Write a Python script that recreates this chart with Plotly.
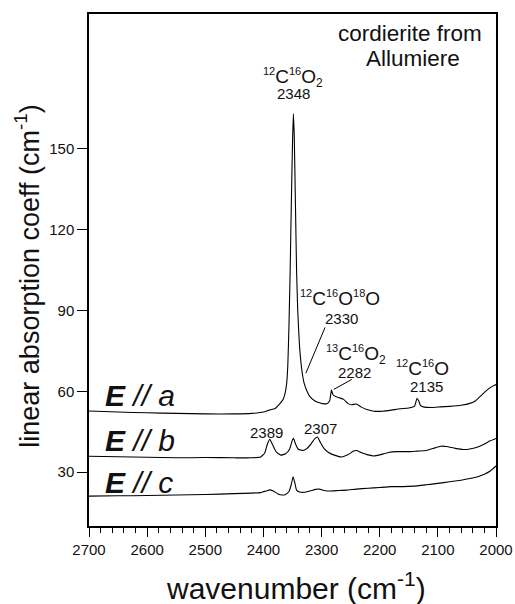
import plotly.graph_objects as go

# ---- data ----
wn_a = [2700, 2650, 2600, 2550, 2500, 2450, 2420, 2400, 2390, 2380, 2372, 2366, 2363, 2360, 2358,
        2356, 2354, 2352, 2350, 2348.5, 2347, 2345, 2343, 2341, 2338, 2334, 2330, 2325, 2320, 2312,
        2305, 2298, 2291, 2286, 2283, 2281, 2278, 2270, 2262, 2255, 2248, 2240, 2232, 2222, 2210,
        2195, 2180, 2165, 2150, 2140, 2136, 2133, 2130, 2125, 2110, 2096, 2080, 2060, 2045, 2035,
        2025, 2015, 2005, 2000]
abs_a = [52.7, 52.3, 52.0, 51.8, 51.6, 51.6, 51.8, 52.3, 53.0, 53.6, 55.3, 57.0, 59.0, 63.0, 70.0,
         85.0, 105.0, 130.0, 152.0, 163.0, 155.0, 130.0, 105.0, 90.0, 77.0, 68.0, 63.0, 60.0, 58.0, 56.5,
         55.8, 55.4, 55.4, 56.5, 60.5, 59.0, 58.3, 57.6, 57.0, 55.5, 55.0, 55.3, 54.2, 53.2, 52.6,
         52.6, 53.0, 53.5, 53.8, 54.5, 57.3, 56.5, 54.8, 54.2, 54.0, 54.2, 54.4, 54.8, 55.5, 56.5,
         58.5, 60.5, 62.0, 62.5]

wn_b = [2700, 2650, 2600, 2550, 2500, 2450, 2420, 2405, 2398, 2393, 2389, 2385, 2378, 2370, 2362,
        2355, 2350, 2348, 2345, 2340, 2332, 2326, 2318, 2312, 2307, 2302, 2296, 2288, 2278, 2265,
        2255, 2245, 2240, 2232, 2220, 2210, 2200, 2185, 2170, 2150, 2135, 2120, 2105, 2095, 2085,
        2070, 2056, 2045, 2030, 2020, 2010, 2000]
abs_b = [35.9, 35.7, 35.5, 35.3, 35.4, 35.3, 35.3, 35.6, 37.0, 40.5, 42.2, 40.5, 37.5, 36.3, 36.8,
         38.5, 42.0, 42.5, 40.5, 38.5, 38.0, 38.6, 40.5, 42.3, 43.0, 41.0, 38.8, 37.3, 36.3, 35.6,
         36.4, 37.8, 38.0, 37.3, 36.4, 36.0, 36.4, 37.3, 37.6, 37.6, 37.8, 38.0, 39.0, 39.6, 39.5,
         38.8, 38.4, 38.6, 39.4, 40.4, 41.6, 42.5]

wn_c = [2700, 2650, 2600, 2550, 2500, 2450, 2420, 2405, 2395, 2389, 2383, 2375, 2368, 2362, 2356,
        2352, 2349, 2346, 2343, 2338, 2330, 2320, 2310, 2304, 2296, 2285, 2270, 2257, 2240, 2220,
        2200, 2180, 2160, 2142, 2120, 2100, 2080, 2060, 2045, 2030, 2020, 2010, 2000]
abs_c = [21.1, 21.2, 21.3, 21.5, 21.7, 22.0, 22.2, 22.4, 23.0, 23.4, 23.0, 21.9, 21.5, 21.7, 22.8,
         25.5, 28.3, 26.0, 23.3, 22.6, 22.5, 23.0, 23.6, 23.7, 23.2, 23.0, 23.2, 23.3, 23.7, 24.0,
         24.3, 24.6, 24.6, 24.8, 25.3, 25.8, 26.4, 27.0, 27.6, 28.4, 29.2, 30.4, 32.3]

series = [(wn_a, abs_a), (wn_b, abs_b), (wn_c, abs_c)]

FONT = "Arial, Liberation Sans, sans-serif"


def sup(t):
    return "<sup><span style='font-size:11px'>%s</span></sup>" % t


def sub(t):
    return "<sub><span style='font-size:12px'>%s</span></sub>" % t


fig = go.Figure()
for wx, ay in series:
    fig.add_trace(go.Scatter(x=wx, y=ay, mode="lines",
                             line=dict(color="black", width=1.1, shape="spline", smoothing=0.4),
                             showlegend=False, hoverinfo="skip"))

ann = []
def add(text, x, y, size, xanchor="center", xref="x", yref="y", **kw):
    ann.append(dict(text=text, x=x, y=y, xref=xref, yref=yref, xanchor=xanchor, yanchor="middle",
                    showarrow=False, font=dict(family=FONT, size=size, color="#111"), **kw))

add(sup("12") + "C" + sup("16") + "O" + sub("2"), 2349, 176.5, 19)
add("2348", 2349, 170.6, 15)
add(sup("12") + "C" + sup("16") + "O" + sup("18") + "O", 2268, 94.5, 19)
add("2330", 2265, 87.0, 15)
add(sup("13") + "C" + sup("16") + "O" + sub("2"), 2241, 73.6, 19)
add("2282", 2244, 67.0, 15)
add(sup("12") + "C" + sup("16") + "O", 2127, 68.8, 19)
add("2135", 2120, 61.9, 15)
add("2389", 2394, 44.8, 15)
add("2307", 2301, 46.3, 15)
add("cordierite from", 2148, 192.6, 22.5)
add("Allumiere", 2143, 183.5, 22.5)
add("<b><i>E</i></b><i> // a</i>", 2676, 58.5, 30, xanchor="left")
add("<b><i>E</i></b><i> // b</i>", 2676, 41.9, 30, xanchor="left")
add("<b><i>E</i></b><i> // c</i>", 2676, 26.3, 30, xanchor="left")
# axis titles
add("wavenumber (cm<sup>-1</sup>)", 0.5086, -0.118, 30, xref="paper", yref="paper")
add("linear absorption coeff (cm<sup>-1</sup>)", -0.151, 0.488, 27, xref="paper", yref="paper",
    textangle=-90)

fig.update_layout(annotations=ann)

# leader lines
fig.add_shape(type="line", x0=2294, y0=83.7, x1=2327, y1=66.7, line=dict(color="black", width=1))
fig.add_shape(type="line", x0=2248, y0=64.4, x1=2279, y1=60.7, line=dict(color="black", width=1))

fig.update_layout(
    width=515, height=604, autosize=False,
    margin=dict(l=89, r=19, t=14, b=78, autoexpand=False),
    paper_bgcolor="white", plot_bgcolor="white",
    font=dict(family=FONT, size=15, color="#111"),
    xaxis=dict(range=[2700, 2000], tickmode="linear", tick0=2000, dtick=100, automargin=False,
               ticks="outside", ticklen=9, tickwidth=1.2, tickcolor="black",
               minor=dict(dtick=20, tick0=2000, ticks="outside", ticklen=5, tickwidth=1, tickcolor="black"),
               showline=True, linecolor="black", linewidth=1.5, mirror=True,
               showgrid=False, zeroline=False, tickfont=dict(size=15)),
    yaxis=dict(range=[10, 200], tickmode="array", tickvals=[30, 60, 90, 120, 150], automargin=False,
               ticks="outside", ticklen=10, tickwidth=1.2, tickcolor="black",
               showline=True, linecolor="black", linewidth=1.5, mirror=True,
               showgrid=False, zeroline=False, tickfont=dict(size=15)),
)

fig.write_html("out.html", config={"displayModeBar": False, "responsive": False},
               post_script="document.body.style.margin='0';document.body.style.overflow='hidden';")
